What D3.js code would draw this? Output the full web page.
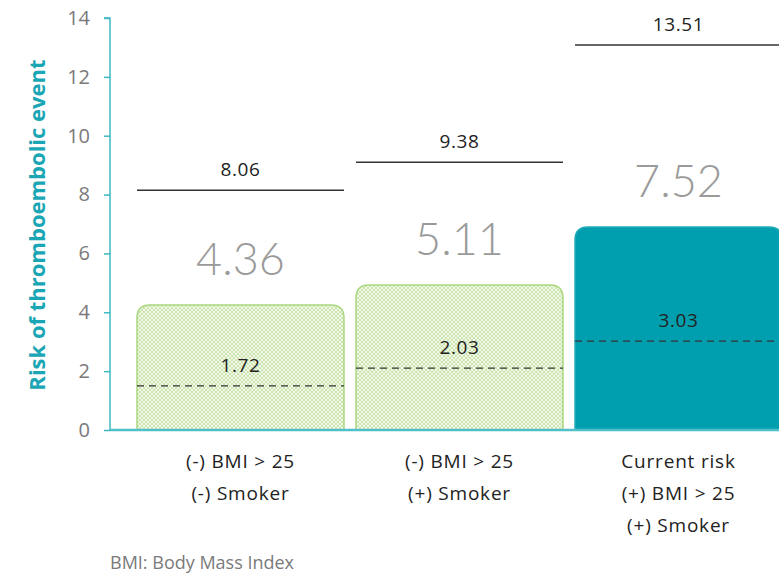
<!DOCTYPE html>
<html>
<head>
<meta charset="utf-8">
<script src="https://cdn.jsdelivr.net/npm/d3@7"></script>
<style>
  body { margin: 0; background: #fff; }
  svg { display: block; font-family: "Open Sans", Lato, sans-serif; }
</style>
</head>
<body>
<svg id="chart" width="779" height="576"></svg>
<script>
// values printed on the chart
const categories = ["none", "smoker", "current"]
const categoryLines = [
    ["(-) BMI > 25", "(-) Smoker"],
    ["(-) BMI > 25", "(+) Smoker"],
    ["Current risk", "(+) BMI > 25", "(+) Smoker"]
]
const meanLabels = [4.36, 5.11, 7.52]
const lowerLabels = [1.72, 2.03, 3.03]
const upperLabels = [8.06, 9.38, 13.51]

// levels where the source actually draws the marks
const barLevels = [4.25, 4.93, 6.9]
const lowerLevels = [1.5, 2.1, 3.02]
const upperLevels = [8.15, 9.1, 13.08]

const yTicks = [0, 2, 4, 6, 8, 10, 12, 14]

const svg = d3.select("#chart")
const axisX = 110

const yScale = d3.scaleLinear()
    .domain([0, 14])
    .range([430, 18])

const xScale = d3.scaleBand()
    .domain(categories)
    .range([137, 782])
    .paddingInner(0.055)
    .paddingOuter(0)

const defs = svg.append("defs")
const pat = defs.append("pattern")
    .attr("id", "hatch")
    .attr("patternUnits", "userSpaceOnUse")
    .attr("width", 4)
    .attr("height", 4)
pat.append("rect").attr("width", 4).attr("height", 4).attr("fill", "#f1f8e9")
pat.append("path").attr("d", "M0,0L4,4M4,0L0,4")
    .attr("stroke", "#cde6b0").attr("stroke-width", 1)

function topRounded(x, y, w, h, r) {
    return `M${x},${y + h}V${y + r}Q${x},${y} ${x + r},${y}H${x + w - r}Q${x + w},${y} ${x + w},${y + r}V${y + h}Z`
}

const data = categories.map((c, i) => ({
    key: c, i,
    bar: barLevels[i], lower: lowerLevels[i], upper: upperLevels[i],
    mean: meanLabels[i], lo: lowerLabels[i], up: upperLabels[i],
    lines: categoryLines[i]
}))

const bw = xScale.bandwidth()

// bars
svg.append("g").selectAll("path")
    .data(data)
    .join("path")
        .attr("d", d => topRounded(xScale(d.key), yScale(d.bar), bw, yScale(0) - yScale(d.bar), 13))
        .attr("fill", d => d.i === 2 ? "#009fb0" : "url(#hatch)")
        .attr("stroke", d => d.i === 2 ? "#20aab9" : "#a9d67f")
        .attr("stroke-width", 1.5)

// dashed lower lines
svg.append("g").selectAll("line")
    .data(data)
    .join("line")
        .attr("x1", d => xScale(d.key))
        .attr("x2", d => xScale(d.key) + bw)
        .attr("y1", d => yScale(d.lower))
        .attr("y2", d => yScale(d.lower))
        .attr("stroke", "#333")
        .attr("stroke-width", 1.3)
        .attr("stroke-dasharray", "7,5")

svg.append("g").selectAll("text")
    .data(data)
    .join("text")
        .attr("x", d => xScale(d.key) + bw / 2)
        .attr("y", d => yScale(d.lower) - 14)
        .attr("text-anchor", "middle")
        .attr("font-size", 19)
        .attr("letter-spacing", 0.6)
        .attr("fill", "#222")
        .text(d => d.lo.toFixed(2))

// upper lines
svg.append("g").selectAll("line")
    .data(data)
    .join("line")
        .attr("x1", d => xScale(d.key))
        .attr("x2", d => xScale(d.key) + bw)
        .attr("y1", d => yScale(d.upper))
        .attr("y2", d => yScale(d.upper))
        .attr("stroke", "#333")
        .attr("stroke-width", 1.5)

svg.append("g").selectAll("text")
    .data(data)
    .join("text")
        .attr("x", d => xScale(d.key) + bw / 2)
        .attr("y", d => yScale(d.upper) - 14)
        .attr("text-anchor", "middle")
        .attr("font-size", 19)
        .attr("letter-spacing", 0.6)
        .attr("fill", "#222")
        .text(d => d.up.toFixed(2))

// big mean labels
svg.append("g").selectAll("text")
    .data(data)
    .join("text")
        .attr("x", d => xScale(d.key) + bw / 2)
        .attr("y", d => yScale(d.bar) - 30)
        .attr("text-anchor", "middle")
        .attr("font-family", "Lato, sans-serif")
        .attr("font-size", 45)
        .attr("font-weight", 300)
        .attr("fill", "#9a9a9a")
        .text(d => d.mean.toFixed(2))

// y axis
const yAxis = d3.axisLeft(yScale).tickValues(yTicks).tickSize(6).tickPadding(14)
const yAxisGroup = svg.append("g")
    .attr("transform", `translate(${axisX},0)`)
    .call(yAxis)
yAxisGroup.select(".domain").attr("stroke", "#3fb8c3").attr("stroke-width", 1.5)
    .attr("d", `M-6,${yScale(14)}H0V${yScale(0)}`)
yAxisGroup.selectAll(".tick line").attr("stroke", "#3fb8c3").attr("stroke-width", 1.5)
yAxisGroup.selectAll(".tick text")
    .attr("font-family", "'Open Sans', sans-serif")
    .attr("font-size", 20)
    .attr("fill", "#7a7a7a")

// baseline
svg.append("line")
    .attr("x1", axisX)
    .attr("x2", 779)
    .attr("y1", yScale(0))
    .attr("y2", yScale(0))
    .attr("stroke", "#4fbfc8")
    .attr("stroke-width", 2.5)

// axis title
svg.append("text")
    .attr("transform", `translate(45,${(yScale(0) + yScale(14)) / 2 + 1}) rotate(-90)`)
    .attr("text-anchor", "middle")
    .attr("font-size", 22)
    .attr("font-weight", 700)
    .attr("fill", "#1aa6b4")
    .text("Risk of thromboembolic event")

// category labels
svg.append("g").selectAll("text")
    .data(data)
    .join("text")
        .attr("x", d => xScale(d.key) + bw / 2)
        .attr("text-anchor", "middle")
        .attr("font-size", 19)
        .attr("letter-spacing", 0.8)
        .attr("fill", "#222")
        .selectAll("tspan")
        .data(d => d.lines)
        .join("tspan")
            .attr("x", function() { return this.parentNode.getAttribute("x") })
            .attr("y", (d, j) => 468 + j * 32)
            .text(d => d)

svg.append("text")
    .attr("x", 110)
    .attr("y", 569)
    .attr("font-size", 18)
    .attr("fill", "#7a7a7a")
    .text("BMI: Body Mass Index")
</script>
</body>
</html>
